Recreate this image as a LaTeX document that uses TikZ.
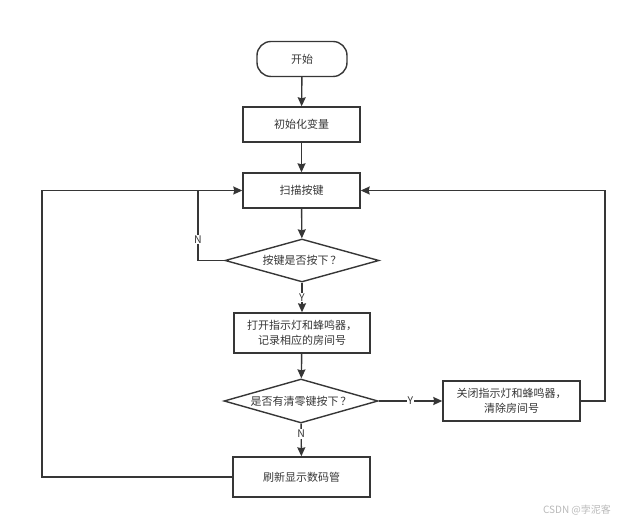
\documentclass[tikz,border=0pt]{standalone}
\usepackage{fontspec}
\setmainfont{Noto Sans CJK SC}
\usetikzlibrary{arrows.meta,shapes.geometric}
\definecolor{ink}{HTML}{363636}
\tikzset{
	every node/.style={text=ink, font=\fontsize{11}{15}\selectfont},
	box/.style={draw=ink, line width=1.4pt, inner sep=0pt, align=center},
	ask/.style={draw=ink, line width=1.4pt, diamond, aspect=3.5, inner sep=0pt},
	line/.style={draw=ink, line width=1.4pt, -{Stealth[length=9pt,width=8pt,inset=1pt]}},
	lab/.style={fill=white, inner sep=1pt, font=\fontsize{10.5}{12}\selectfont}
}
\begin{document}
\begin{tikzpicture}[x=1pt, y=-1pt]
				\useasboundingbox (0,0) rectangle (635,526);
				\node [box, rounded corners=14pt, minimum width=90pt, minimum height=35pt] (start) at (302,59) {开始};
				\node [box, minimum width=117pt, minimum height=35pt] (init) at (301.5,124.5) {初始化变量};
				\node [box, minimum width=117pt, minimum height=35pt] (scan) at (301.5,190.5) {扫描按键};
				\node [ask, minimum width=154pt, minimum height=43pt] (press) at (302,260.5) {按键是否按下\,？};
				\node [box, minimum width=136pt, minimum height=40pt] (open) at (302,333) {打开指示灯和蜂鸣器，\\记录相应的房间号};
				\node [ask, minimum width=154pt, minimum height=44pt] (clear) at (301,401) {是否有清零键按下\,？};
				\node [box, minimum width=137pt, minimum height=40pt] (close) at (511.5,401) {关闭指示灯和蜂鸣器，\\清除房间号};
				\node [box, minimum width=137pt, minimum height=40pt] (refresh) at (301.5,477) {刷新显示数码管};
				\node [text=gray!55, font=\fontsize{10}{12}\selectfont] (mark) at (577,510) {CSDN @孛泥客};
				\coordinate (tee) at (198,190.5);
				\coordinate (left) at (42,190.5);
				\coordinate (right) at (605,190.5);

				\draw [line] (start) to (init);
				\draw [line] (init) to (scan);
				\draw [line] (scan) to (press);
				\draw [line] (press) to node [lab] {Y} (open);
				\draw [line] (open) to (clear);
				\draw [line] (clear) to node [lab] {Y} (close);
				\draw [line] (clear) to node [lab, pos=0.32] {N} (refresh);
				\draw [draw=ink, line width=1.4pt] (press.west) -| node [lab, pos=0.65] {N} (tee);
				\draw [line] (refresh.west) -| (left) to (scan.west);
				\draw [line] (close.east) -| (right) to (scan.east);
		\end{tikzpicture}
\end{document}
